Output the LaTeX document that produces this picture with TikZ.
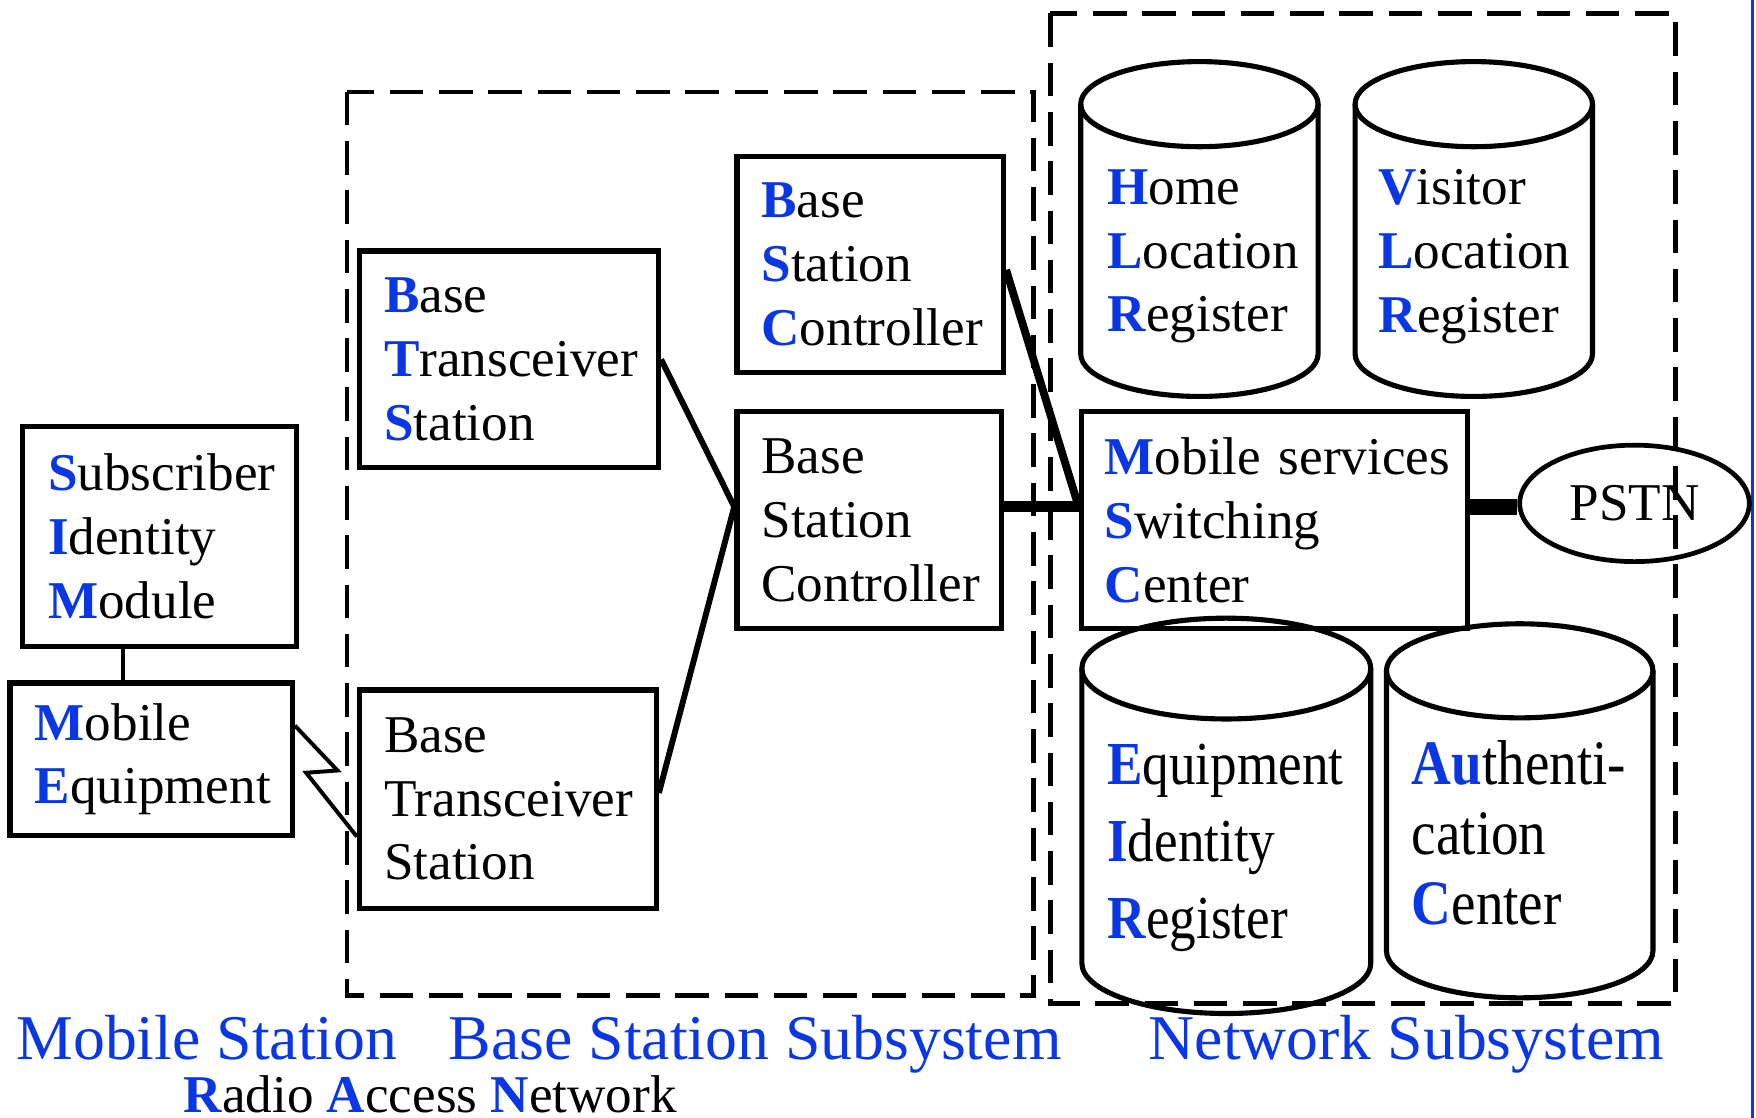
\documentclass[tikz,border=0pt]{standalone}
\usepackage{fontspec}
\setmainfont{Liberation Serif}
\usetikzlibrary{shapes.geometric}
\definecolor{gsmblue}{RGB}{10,55,230}
\newcommand{\ac}[1]{\textcolor{gsmblue}{\textbf{#1}}}
\newcommand{\boxfont}{\fontsize{13.5}{16.2}\selectfont\hyphenpenalty=10000}
\newcommand{\captionfont}{\fontsize{16.2}{19}\selectfont}
\newcommand{\tallline}[1]{\scalebox{1}[1.15]{#1}}

\begin{document}
\begin{tikzpicture}[x=0.1mm, y=-0.1mm,
	unit/.style={draw, rectangle, line width=1.35pt, inner ysep=0pt, inner xsep=2.2mm, align=left, font=\boxfont},
	dbtext/.style={anchor=west, inner sep=0pt, align=left, font=\boxfont},
	caption/.style={anchor=base west, inner sep=0pt, text=gsmblue, font=\captionfont},
	zone/.style={line width=1.15pt, dash pattern=on 3mm off 1.4mm},
	link/.style={line width=1.5pt}]
	\useasboundingbox (0,0) rectangle (1568,998);

	% subsystems
	\draw[zone] (310,82) rectangle (923,889);
	\draw[zone] (938,12) rectangle (1496,896);
	\draw[gsmblue, line width=0.9pt] (1565,0) -- (1565,998);

	% mobile station
	\node[unit, minimum width=24.5mm, minimum height=19.6mm, text width=19.9mm, inner xsep=2.3mm] (sim) at (142.5,479) {\ac{S}ubscriber\\\ac{I}dentity\\\ac{M}odule};
	\node[unit, minimum width=25.2mm, minimum height=13.6mm, text width=20.8mm] (me) at (135,678) {\ac{M}obile\\\ac{E}quipment};

	% base station subsystem
	\node[unit, minimum width=26.7mm, minimum height=19.35mm, text width=22.3mm] (bts1) at (454.5,321) {\ac{B}ase\\\ac{T}ransceiver\\\ac{S}tation};
	\node[unit, minimum width=26.5mm, minimum height=19.5mm, text width=22.1mm] (bts2) at (453.5,713.5) {Base\\Transceiver\\Station};
	\node[unit, minimum width=23.8mm, minimum height=19.3mm, text width=19.4mm] (bsc1) at (777,236) {\ac{B}ase\\\ac{S}tation\\\ac{C}ontroller};
	\node[unit, minimum width=23.6mm, minimum height=19.35mm, text width=19.2mm] (bsc2) at (776,464.5) {Base\\Station\\Controller};

	% network subsystem
	\node[unit, minimum width=34.5mm, minimum height=19.35mm, text width=30.3mm, inner xsep=2.1mm] (msc) at (1138,464.5) {\ac{M}obile~services\\\ac{S}witching\\\ac{C}enter};
	\node[draw, ellipse, line width=1.2pt, minimum width=20.5mm, minimum height=10.4mm, inner sep=0pt, font=\boxfont] (pstn) at (1459.5,449.5) {PSTN};

	\foreach \cx/\yt/\yb/\rx/\ry in {1071/93/316/106/38, 1316/93/316/106/38, 1095/597/860/129/45, 1357/599/849/119/42} {
		\draw[line width=1.3pt] (\cx-\rx,\yt) -- (\cx-\rx,\yb) arc[start angle=180, end angle=360, x radius={0.1mm*\rx}, y radius={0.1mm*\ry}] -- (\cx+\rx,\yt);
		\draw[line width=1.3pt] (\cx,\yt) ellipse[x radius={0.1mm*\rx}, y radius={0.1mm*\ry}];
	}
	\node[dbtext] (hlr) at (988,229) {\ac{H}ome\\\ac{L}ocation\\\ac{R}egister};
	\node[dbtext] (vlr) at (1230,229) {\ac{V}isitor\\\ac{L}ocation\\\ac{R}egister};
	\node[dbtext, font=\fontsize{13.5}{19.5}\selectfont] (eir) at (988,757) {\tallline{\ac{E}quipment}\\\tallline{\ac{I}dentity}\\\tallline{\ac{R}egister}};
	\node[dbtext, font=\fontsize{14}{17.8}\selectfont] (auc) at (1260,744) {\tallline{\ac{Au}thenti-}\\\tallline{cation}\\\tallline{\ac{C}enter}};

	% links
	\draw[line width=1pt] ([xshift=-3.25mm]sim.south) -- ([xshift=-3.25mm]sim.south |- me.north);
	\draw[line width=1pt] ([yshift=3mm]me.east) -- ++(38,40) -- ++(-28,2) -- ([yshift=-3.35mm]bts2.west);
	\coordinate (bscin) at ([yshift=1.2mm]bsc2.west);
	\draw[link] (bts1.east) -- (bscin) -- ([yshift=0.55mm]bts2.east);
	\draw[line width=2pt] ([yshift=-0.5mm]bsc1.east) -- ([yshift=1.2mm]msc.west);
	\draw[line width=2.7pt] ([yshift=1.2mm]bsc2.east) -- ([yshift=1.2mm]msc.west);
	\draw[line width=4pt] ([yshift=1.2mm]msc.east) -- ([yshift=1.2mm]msc.east -| pstn.west);

	% captions
	\node[caption] (mslabel) at (14,946) {Mobile Station};
	\node[caption] (bsslabel) at (400,946) {Base Station Subsystem};
	\node[caption] (nsslabel) at (1025,946) {Network Subsystem};
	\node[caption, text=black, font=\boxfont] (ranlabel) at (163,993) {\ac{R}adio \ac{A}ccess \ac{N}etwork};
\end{tikzpicture}
\end{document}
